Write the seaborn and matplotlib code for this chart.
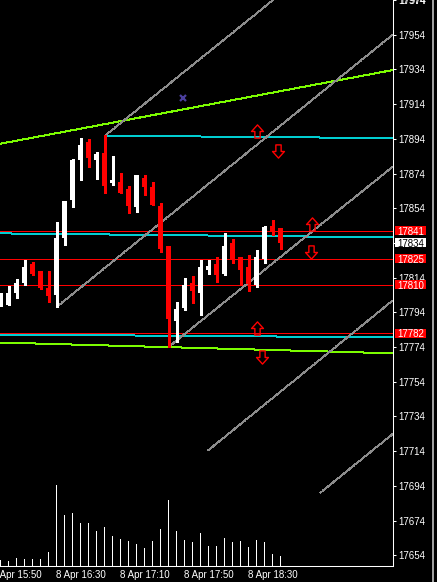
import matplotlib
matplotlib.use("Agg")
import matplotlib.pyplot as plt
import matplotlib.transforms as mtransforms
from matplotlib.path import Path
from matplotlib.patches import Rectangle
from matplotlib.lines import Line2D
import seaborn as sns

# 5-minute bars, index 0 = 8 Apr 15:55
opens = [17798, 17798, 17805, 17811, 17822, 17818, 17808, 17804, 17837, 17858.5,
         17882, 17892, 17882, 17886, 17868.5, 17869, 17865, 17854.5, 17871.5, 17866,
         17855.5, 17832, 17789, 17796.5, 17811, 17805, 17818.5, 17822, 17816, 17834,
         17826, 17820, 17809.5, 17824.5, 17843.5, 17842.5]
highs = [17805, 17809, 17813, 17824, 17823, 17818, 17818, 17846, 17858, 17882.5,
         17894.5, 17894, 17886.5, 17896, 17884, 17874.5, 17867, 17873, 17873, 17869,
         17857, 17832, 17800, 17813.5, 17815, 17824, 17824, 17826, 17839.5, 17836,
         17826, 17827, 17830, 17843.5, 17847, 17842.5]
lows = [17797.5, 17798, 17802, 17810, 17815.5, 17807.5, 17800, 17797, 17833, 17854.5,
        17870.5, 17878, 17871, 17862.5, 17867.5, 17862.5, 17851, 17852, 17861.5, 17856,
        17829, 17774, 17777, 17795.5, 17799.5, 17792.5, 17816, 17811.5, 17815.5, 17822.5,
        17810.5, 17806.5, 17808.5, 17822.5, 17838.5, 17830.5]
closes = [17804, 17805, 17811, 17820, 17816, 17808, 17803.5, 17837, 17858, 17882,
          17890.5, 17883, 17885, 17867, 17870, 17863, 17855, 17873, 17866.5, 17856,
          17830.5, 17790, 17796, 17809.5, 17806.5, 17820, 17820.5, 17815.5, 17832.5, 17824.5,
          17818.5, 17810.5, 17826, 17843, 17840.5, 17834]
volumes = [6, 5, 8, 7, 7, 7, 14, 81, 51, 53, 43, 43, 35, 39, 30, 27, 25, 22,
           18, 25, 37, 66, 35, 26, 24, 33, 20, 20, 28, 24, 25, 19, 26, 24, 12, 10]

time_labels = ["8 Apr 15:50", "8 Apr 16:30", "8 Apr 17:10", "8 Apr 17:50", "8 Apr 18:30"]
time_label_bars = [-1, 7, 15, 23, 31]
price_ticks = list(range(17654, 17975, 20))

red_levels = [17841, 17825, 17810, 17782]
bid_price = 17834

# objects: ((bar, price), (bar, price))
cyan_lines = [((13.06, 17895.8), (49, 17894.4)),
              ((-0.1, 17839.5), (49, 17837.2)),
              ((-0.1, 17781.2), (49, 17779.6))]
green_lines = [((-0.1, 17891.1), (49, 17933.6)),
               ((-0.1, 17776.6), (49, 17770.4))]
gray_lines = [((13.06, 17895.8), (49, 18029.5)),
              ((7.02, 17797.1), (49, 17953.9)),
              ((21.0, 17774.0), (49, 17877.8)),
              ((25.94, 17714.4), (49, 17800.7)),
              ((39.94, 17689.9), (49, 17723.8))]
up_arrows = [(32.06, 17898.7), (38.9, 17845.0), (32.06, 17785.0)]
down_arrows = [(34.7, 17886.7), (38.75, 17828.7), (32.7, 17768.4)]
cross_mark = (22.8, 17917.3)

sns.set_style("dark", rc={"axes.facecolor": "black", "figure.facecolor": "black",
                          "axes.edgecolor": "white", "text.color": "white",
                          "xtick.color": "white", "ytick.color": "white",
                          "axes.grid": False})
plt.rcParams["font.family"] = ["Liberation Sans", "DejaVu Sans"]

W, H = 437, 582
FS = 7
fig = plt.figure(figsize=(W / 100, H / 100), dpi=100)
ax = fig.add_axes([0, 16.5 / H, 392.5 / W, 565.5 / H])
ax.set_facecolor("black")

bars = list(range(len(opens)))

# volume in the bottom of the same window
ax2 = ax.twinx()
sns.barplot(x=bars, y=volumes, native_scale=True, width=0.125, color="white",
            saturation=1, linewidth=0, errorbar=None, ax=ax2)
ax2.set_ylim(0, 565.5)
ax2.set_yticks([])
ax2.set_xlabel("")
ax2.set_ylabel("")
for s in ax2.spines.values():
    s.set_visible(False)

# horizontal objects
for lv in red_levels:
    ax.axhline(lv, color="#ff0000", lw=0.72, antialiased=False, zorder=2)
for (x0, y0), (x1, y1) in cyan_lines:
    ax.plot([x0, x1], [y0, y1], color="#00ced1", lw=0.72, antialiased=False, zorder=2)
for (x0, y0), (x1, y1) in green_lines:
    ax.plot([x0, x1], [y0, y1], color="#7cfc00", lw=0.72, antialiased=False, zorder=2)
for (x0, y0), (x1, y1) in gray_lines:
    ax.plot([x0, x1], [y0, y1], color="#8c8c8c", lw=0.72, ls=(0, (1, 1)),
            antialiased=False, zorder=2)

# candles
colors = ["white" if c >= o else "#ff0000" for o, c in zip(opens, closes)]
ax.vlines(bars, lows, highs, colors=colors, lw=0.75, antialiased=False, zorder=3)
body_low = [min(o, c) for o, c in zip(opens, closes)]
body_h = [max(abs(c - o), 0.7) for o, c in zip(opens, closes)]
ax.bar(bars, body_h, bottom=body_low, width=0.68, color=colors, linewidth=0,
       antialiased=False, zorder=4)

# arrows
up_path = Path([(-0.2, -0.5), (0.2, -0.5), (0.2, 0.0), (0.45, 0.0), (0, 0.5),
                (-0.45, 0.0), (-0.2, 0.0), (-0.2, -0.5)],
               [Path.MOVETO] + [Path.LINETO] * 6 + [Path.CLOSEPOLY])
down_path = Path([(x, -y) for x, y in up_path.vertices], up_path.codes)
ax.plot([p[0] for p in up_arrows], [p[1] for p in up_arrows], ls="none",
        marker=up_path, ms=9.5, mfc="none", mec="#ff0000", mew=1.0, zorder=5)
ax.plot([p[0] for p in down_arrows], [p[1] for p in down_arrows], ls="none",
        marker=down_path, ms=9.5, mfc="none", mec="#ff0000", mew=1.0, zorder=5)
ax.plot([cross_mark[0]], [cross_mark[1]], ls="none", marker="x", ms=5,
        mec="#4b3f9e", mew=1.6, zorder=5)

ax.set_xlim(-0.0625, 49.0)
ax.set_ylim(17648.1, 17972.8)

# axes frame
for side in ["left", "top"]:
    ax.spines[side].set_visible(False)
for side in ["right", "bottom"]:
    ax.spines[side].set_visible(True)
    ax.spines[side].set_color("white")
    ax.spines[side].set_linewidth(0.75)

ax.set_xticks([])
ax.yaxis.tick_right()
ax.set_yticks(price_ticks)
ax.set_yticklabels([str(t) for t in price_ticks])
ax.tick_params(axis="y", direction="out", length=2.2, width=0.75, colors="white",
               labelsize=FS, pad=2.2)
ax.set_ylabel("")

ytrans = mtransforms.blended_transform_factory(ax.transAxes, ax.transData)
ax.text(1.0 + 6.5 / 392.5, 17974, "17974", transform=ytrans, fontsize=FS,
        color="white", va="center_baseline", ha="left", clip_on=False)

xtrans = mtransforms.blended_transform_factory(ax.transData, ax.transAxes)
for b, lab in zip(time_label_bars, time_labels):
    ax.text(b - 0.1, -(578 - 565.5) / 565.5, lab, transform=xtrans, fontsize=FS,
            color="white", ha="left", va="baseline", clip_on=False)

# price tags on the scale
px_to_price = (17972.8 - 17648.1) / 565.5
for lv, fc, tc in [(17841, "#ff0000", "white"), (bid_price, "white", "black"),
                   (17825, "#ff0000", "white"), (17810, "#ff0000", "white"),
                   (17782, "#ff0000", "white")]:
    ax.add_patch(Rectangle((395 / 392.5, lv - 4.5 * px_to_price), 31 / 392.5,
                           9 * px_to_price, transform=ytrans, clip_on=False,
                           fc=fc, ec="none", zorder=6))
    ax.text(410.5 / 392.5, lv, str(lv), transform=ytrans, fontsize=FS, color=tc,
            ha="center", va="center_baseline", clip_on=False, zorder=7)

fig.add_artist(Line2D([433.3 / W] * 2, [0, 1], transform=fig.transFigure,
                      color="#a0a0a0", lw=1.44))

fig.savefig("out.png", dpi=100, facecolor="black")
